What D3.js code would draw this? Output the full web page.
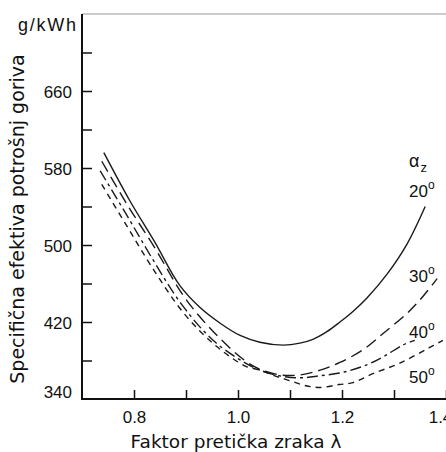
<!DOCTYPE html>
<html><head><meta charset="utf-8">
<script src="https://cdn.jsdelivr.net/npm/d3@7"></script>
<style>html,body{margin:0;padding:0;background:#fff;overflow:hidden}</style>
</head><body>
<svg id="c" width="446" height="452"></svg>
<script>
// ---- data (lambda, g/kWh) ----
const xTicks = [0.8, 0.9, 1.0, 1.1, 1.2, 1.3, 1.4];
const xLabels = [0.8, 1.0, 1.2, 1.4];
const yTicks = [340, 380, 420, 460, 500, 540, 580, 620, 660, 700];
const yLabels = [340, 420, 500, 580, 660];
const seriesNames = ["20", "30", "40", "50"];
const curve20 = [[0.742,596],[0.792,546],[0.840,503],[0.888,458],[0.927,435],[0.965,419],[1.004,406],[1.042,399],[1.087,396],[1.119,398],[1.144,402],[1.171,410],[1.196,420],[1.221,431],[1.248,445],[1.287,470],[1.325,501],[1.360,540]];
const curve30 = [[0.738,587],[0.788,541],[0.840,497],[0.898,445],[0.956,408],[1.013,380],[1.042,371],[1.081,365],[1.119,365],[1.158,370],[1.196,378],[1.240,391],[1.279,408],[1.325,429],[1.350,443],[1.383,465]];
const curve40 = [[0.735,577],[0.785,532],[0.835,486],[0.892,438],[0.952,401],[1.012,378],[1.042,370],[1.081,364],[1.119,362],[1.156,364],[1.204,368],[1.250,376],[1.283,385],[1.317,396],[1.340,401]];
const curve50 = [[0.738,563],[0.787,519],[0.838,474],[0.896,429],[0.958,395],[1.015,374],[1.042,370],[1.071,364],[1.100,359],[1.129,354],[1.158,352],[1.194,355],[1.221,357],[1.258,366],[1.310,377],[1.367,393],[1.394,401]];
const curves = [curve20, curve30, curve40, curve50];
const dashes = [null, "12,6", "11,4,3,4", "6,5"];
const labelY = [550, 462, 403, 357]; // label baselines (g/kWh) at right
const yUnit = "g/kWh";
const xTitle = "Faktor pretička zraka λ";
const yTitle = "Specifična efektiva potrošnj goriva";

const svg = d3.select("#c");
const x = d3.scaleLinear().domain([0.7, 1.4]).range([82, 446]);
const y = d3.scaleLinear().domain([340, 740]).range([399, 14]);

// frame top (light)
svg.append("line").attr("x1", 82).attr("x2", 446).attr("y1", 14).attr("y2", 14)
  .attr("stroke", "#9a9a9a").attr("stroke-width", 1);

// y axis
const ya = svg.append("g").attr("transform", "translate(82,0)")
  .call(d3.axisLeft(y).tickValues(yTicks).tickSize(-10).tickPadding(10)
    .tickFormat(d => yLabels.includes(d) ? d : ""));
ya.select(".domain").remove();
ya.selectAll(".tick line").attr("stroke", "#111").attr("stroke-width", 1.5);
ya.selectAll(".tick text").attr("font-family", "Liberation Sans, Arial, sans-serif")
  .attr("font-size", 17).attr("fill", "#111")
  .attr("dy", d => d === 340 ? "-0.1em" : "0.4em");
ya.selectAll(".tick").filter(d => d === 340).select("line").remove();

// x axis
const xa = svg.append("g").attr("transform", "translate(0,399)")
  .call(d3.axisBottom(x).tickValues(xTicks).tickSize(-9).tickPadding(12)
    .tickFormat(d => xLabels.includes(d) ? d3.format(".1f")(d) : ""));
xa.select(".domain").remove();
xa.selectAll(".tick line").attr("stroke", "#111").attr("stroke-width", 1.5);
xa.selectAll(".tick text").attr("font-family", "Liberation Sans, Arial, sans-serif")
  .attr("font-size", 17).attr("fill", "#111")
  .attr("dx", d => d === 1.4 ? "-6" : "0");

// axis lines
svg.append("line").attr("x1", 82).attr("x2", 82).attr("y1", 14).attr("y2", 400)
  .attr("stroke", "#111").attr("stroke-width", 2);
svg.append("line").attr("x1", 81).attr("x2", 446).attr("y1", 399).attr("y2", 399)
  .attr("stroke", "#111").attr("stroke-width", 2);

// curves
const line = d3.line().x(d => x(d[0])).y(d => y(d[1])).curve(d3.curveCatmullRom.alpha(0.5));
curves.forEach((c, i) => {
  svg.append("path").datum(c).attr("d", line).attr("fill", "none")
    .attr("stroke", "#1a1a1a").attr("stroke-width", 1.4)
    .attr("stroke-dasharray", dashes[i]);
});

// unit label
svg.append("text").attr("x", 18).attr("y", 31)
  .attr("font-family", "Liberation Sans, Arial, sans-serif").attr("font-size", 18)
  .attr("textLength", 58).attr("lengthAdjust", "spacing")
  .attr("fill", "#111").text(yUnit);

// alpha_z
const az = svg.append("text").attr("x", 409).attr("y", 167)
  .attr("font-family", "Liberation Sans, Arial, sans-serif").attr("font-size", 18).attr("fill", "#111");
az.append("tspan").text("α");
az.append("tspan").attr("font-size", 13).attr("dy", 5).attr("dx", 1).text("z");

// series labels
seriesNames.forEach((s, i) => {
  const t = svg.append("text").attr("x", 409).attr("y", y(labelY[i]))
    .attr("font-family", "Liberation Sans, Arial, sans-serif").attr("font-size", 17).attr("fill", "#111");
  t.append("tspan").text(s);
  t.append("tspan").attr("font-size", 12).attr("dy", -8).text("o");
});

// axis titles
svg.append("text").attr("x", 236).attr("y", 448).attr("text-anchor", "middle")
  .attr("font-family", "DejaVu Sans, Verdana, sans-serif").attr("font-size", 18.5)
  .attr("fill", "#111").text(xTitle);
svg.append("text").attr("transform", "translate(24,219) rotate(-90)").attr("text-anchor", "middle")
  .attr("font-family", "DejaVu Sans, Verdana, sans-serif").attr("font-size", 19)
  .attr("fill", "#111").text(yTitle);
</script>
</body></html>
